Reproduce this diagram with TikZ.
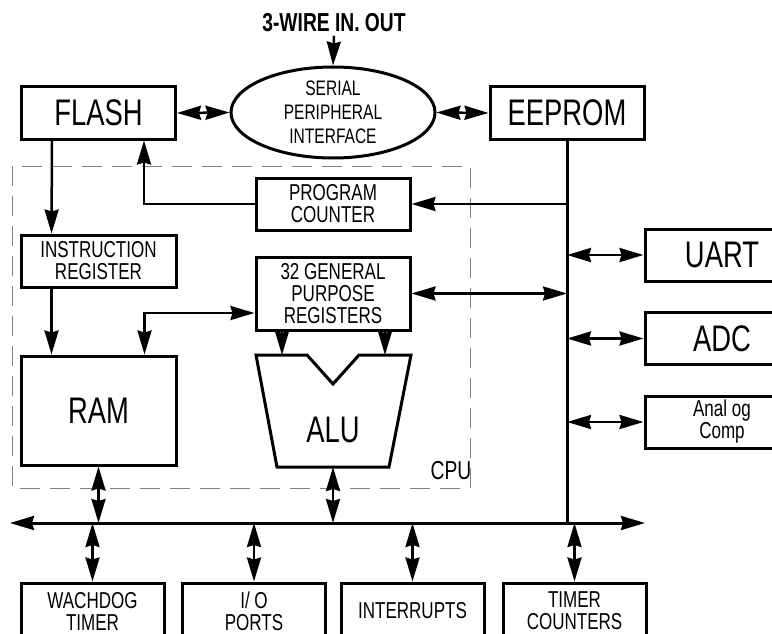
\documentclass[tikz,border=0pt]{standalone}
\usepackage{fontspec}
\setmainfont{Liberation Sans}[FakeStretch=0.74]
\usetikzlibrary{arrows.meta,shapes.geometric}
\newcommand{\bigtxt}{\fontsize{37}{37}\selectfont}
\newcommand{\midtxt}{\fontsize{23}{22}\selectfont}
\newcommand{\smtxt}{\fontsize{21}{24}\selectfont}

\begin{document}
\begin{tikzpicture}[x=1pt, y=-1pt,
  box/.style={draw, line width=3pt, align=center, inner sep=0pt},
  unit/.style={box, minimum width=154pt, minimum height=52pt},
  periph/.style={box, minimum width=154pt, minimum height=52pt},
  io/.style={box, minimum width=143pt, minimum height=56pt, font=\midtxt},
  arr/.style={-{Stealth[length=24pt, width=14pt, inset=2pt]}, line width=2.5pt},
  darr/.style={{Stealth[length=24pt, width=14pt, inset=2pt]}-{Stealth[length=24pt, width=14pt, inset=2pt]}, line width=2.5pt},
  bus/.style={line width=3pt}]
\useasboundingbox (0,0) rectangle (772,634);
\clip (0,0) rectangle (772,634);
\draw[gray, line width=1pt, dash pattern=on 20pt off 10pt] (12,166) rectangle (470,488);
\node[font=\bfseries\fontsize{26}{26}\selectfont] (title) at (334,23) {3-WIRE IN. OUT};
\node[unit, font=\bigtxt] (flash) at (98.5,113) {FLASH};
\node[draw, ellipse, line width=3pt, minimum width=204pt, minimum height=91pt,
  inner sep=0pt, align=center, font=\smtxt] (spi) at (333,112.5) {SERIAL\\PERIPHERAL\\INTERFACE};
\node[unit, font=\bigtxt] (eeprom) at (567,113) {EEPROM};
\node[unit, font=\midtxt] (pc) at (333,204) {PROGRAM\\COUNTER};
\node[unit, minimum width=155pt, font=\midtxt] (ir) at (98.5,261) {INSTRUCTION\\REGISTER};
\node[unit, minimum height=73pt, font=\midtxt] (reg) at (333,293.5) {32 GENERAL\\PURPOSE\\REGISTERS};
\node[unit, minimum width=155pt, minimum height=109pt, font=\bigtxt] (ram) at (98.5,410.5) {RAM};
\node[periph, font=\bigtxt] (uart) at (722,255) {UART};
\node[periph, font=\bigtxt] (adc) at (722,338.5) {ADC};
\node[periph, font=\midtxt] (comp) at (722,422) {Anal og\\Comp};
\node[io] (wdt) at (92.5,611) {WACHDOG\\TIMER};
\node[io] (ports) at (254,611) {I/ O\\PORTS};
\node[io] (irq) at (412.5,611) {INTERRUPTS};
\node[io] (timer) at (574.5,611) {TIMER\\COUNTERS};
\node[font=\fontsize{26}{26}\selectfont] (cpu) at (451,471) {CPU};

\draw[line width=3pt] (256,355) -- (307,355) -- (333,384) -- (359,355) -- (411,355)
  -- (389,467) -- (277,467) -- cycle;
\node[font=\bigtxt] (alu) at (333,430) {ALU};
\coordinate (alu-a) at (282,355);
\coordinate (alu-b) at (385,355);
\coordinate (alu-o) at (333,467);

\coordinate (busL) at (10,523);
\coordinate (busR) at (645,523);
\draw[darr, line width=3pt] (busL) -- (busR);
\draw[bus] (eeprom.south) -- (eeprom.south |- busL);

\draw[arr] (title.south) -- (spi.north);
\draw[darr] (flash.east) -- (spi.west);
\draw[darr] (spi.east) -- (eeprom.west);
\draw[arr] ([xshift=32pt]flash.south west) -- ([xshift=32pt]ir.north west);
\draw[arr] ([xshift=32pt]ir.south west) -- ([xshift=32pt]ram.north west);
\draw[arr] (pc.east -| eeprom.south) -- (pc.east);
\draw[arr] (pc.west) -| ([xshift=-33pt]flash.south east);
\draw[darr] ([yshift=-19.5pt]reg.west) -| ([xshift=-33pt]ram.north east);
\draw[darr] (reg.east) -- (reg.east -| eeprom.south);
\draw[arr] (reg.south -| alu-a) -- (alu-a);
\draw[arr] (reg.south -| alu-b) -- (alu-b);
\foreach \p in {uart,adc,comp}
  \draw[darr] (eeprom.south |- \p.west) -- (\p.west);
\draw[darr] (ram.south) -- (ram.south |- busL);
\draw[darr] (alu-o) -- (alu-o |- busL);
\foreach \n in {wdt,ports,irq,timer}
  \draw[darr] (\n.north |- busL) -- (\n.north);
\end{tikzpicture}
\end{document}
